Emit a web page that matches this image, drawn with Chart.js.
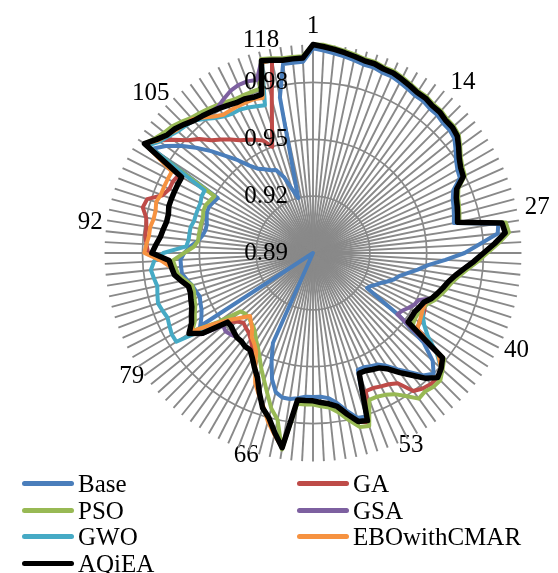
<!DOCTYPE html>
<html>
<head>
<meta charset="utf-8">
<script src="https://cdn.jsdelivr.net/npm/chart.js@4.4.1/dist/chart.umd.min.js"></script>
<style>
  html, body { margin: 0; padding: 0; background: #fff; overflow: hidden; }
  #wrap { position: relative; width: 558px; height: 573px; }
  #radar { position: absolute; left: 0; top: 0; }
  .item { position: absolute; height: 26px; line-height: 26px; font: 25px "Liberation Serif", serif; color: #000; white-space: nowrap; }
  .swatch { position: absolute; left: 0; top: 11px; width: 52px; height: 5px; border-radius: 3px; }
  .txt { position: absolute; left: 56px; top: 0; }
</style>
</head>
<body>
<div id="wrap">
  <canvas id="radar" width="558" height="573"></canvas>
  <div id="legend"></div>
</div>
<script>
// categories 1..120, only every 13th one is labelled
var categories = [];
for (var i = 1; i <= 120; i++) categories.push(String(i));
var shownLabels = ['1', '14', '27', '40', '53', '66', '79', '92', '105', '118'];
var tickValues = [0.888, 0.89, 0.92, 0.95, 0.98, 1.00];   // first one is a dummy (chart.js skips tick 0)
var tickLabels = [0.89, 0.92, 0.95, 0.98];

var seriesNames = ['Base', 'GA', 'PSO', 'GSA', 'GWO', 'EBOwithCMAR', 'AQiEA'];
var seriesColors = ['#4A7EBB', '#BE4B48', '#98B954', '#7D60A0', '#46AAC5', '#F69240', '#000000'];

var base = [
  0.998, 0.997, 0.996, 0.995, 0.994, 0.993, 0.993, 0.992, 0.992, 0.991,
  0.990, 0.989, 0.989, 0.988, 0.988, 0.987, 0.987, 0.986, 0.983, 0.980,
  0.978, 0.977, 0.971, 0.969, 0.968, 0.967, 0.966, 0.989, 0.988, 0.978,
  0.970, 0.960, 0.951, 0.946, 0.941, 0.937, 0.935, 0.932, 0.929, 0.927,
  0.925, 0.924, 0.946, 0.965, 0.975, 0.980, 0.977, 0.971, 0.966, 0.961,
  0.958, 0.957, 0.956, 0.956, 0.981, 0.980, 0.975, 0.970, 0.967, 0.966,
  0.966, 0.966, 0.967, 0.968, 0.968, 0.966, 0.960, 0.951, 0.942, 0.890,
  0.890, 0.890, 0.890, 0.890, 0.890, 0.890, 0.890, 0.890, 0.890, 0.961,
  0.958, 0.956, 0.955, 0.954, 0.955, 0.956, 0.958, 0.960, 0.960, 0.960,
  0.958, 0.955, 0.951, 0.949, 0.948, 0.948, 0.949, 0.950, 0.950, 0.949,
  0.948, 0.991, 0.986, 0.980, 0.973, 0.966, 0.959, 0.953, 0.947, 0.943,
  0.941, 0.939, 0.938, 0.933, 0.925, 0.920, 0.974, 0.991, 0.991, 0.991
];
var ga = [
  1.000, 0.999, 0.998, 0.997, 0.996, 0.995, 0.995, 0.994, 0.994, 0.993,
  0.992, 0.991, 0.991, 0.990, 0.990, 0.989, 0.989, 0.988, 0.985, 0.982,
  0.980, 0.979, 0.973, 0.971, 0.970, 0.969, 0.968, 0.991, 0.992, 0.986,
  0.980, 0.975, 0.970, 0.966, 0.963, 0.961, 0.959, 0.957, 0.955, 0.956,
  0.957, 0.957, 0.958, 0.978, 0.981, 0.983, 0.983, 0.982, 0.980, 0.972,
  0.970, 0.969, 0.968, 0.968, 0.984, 0.982, 0.977, 0.972, 0.970, 0.969,
  0.968, 0.968, 0.968, 0.994, 0.987, 0.980, 0.976, 0.969, 0.962, 0.958,
  0.954, 0.949, 0.946, 0.944, 0.943, 0.942, 0.944, 0.948, 0.956, 0.966,
  0.964, 0.962, 0.960, 0.959, 0.958, 0.958, 0.961, 0.964, 0.965, 0.966,
  0.977, 0.978, 0.979, 0.979, 0.980, 0.983, 0.982, 0.975, 0.973, 0.973,
  0.972, 0.995, 0.991, 0.985, 0.979, 0.975, 0.970, 0.967, 0.964, 0.961,
  0.959, 0.957, 0.955, 0.950, 0.960, 0.974, 0.994, 0.993, 0.993, 0.993
];
var pso = [
  1.000, 1.000, 0.999, 0.998, 0.997, 0.996, 0.996, 0.995, 0.995, 0.994,
  0.993, 0.992, 0.992, 0.991, 0.991, 0.990, 0.990, 0.989, 0.986, 0.983,
  0.981, 0.980, 0.974, 0.972, 0.971, 0.970, 0.969, 0.993, 0.994, 0.988,
  0.982, 0.977, 0.972, 0.968, 0.965, 0.963, 0.961, 0.959, 0.956, 0.955,
  0.954, 0.954, 0.955, 0.979, 0.982, 0.985, 0.985, 0.984, 0.985, 0.980,
  0.976, 0.974, 0.973, 0.973, 0.986, 0.985, 0.980, 0.975, 0.972, 0.971,
  0.970, 0.970, 0.970, 0.995, 0.980, 0.975, 0.968, 0.962, 0.957, 0.952,
  0.948, 0.945, 0.942, 0.940, 0.939, 0.938, 0.938, 0.939, 0.952, 0.966,
  0.962, 0.960, 0.958, 0.957, 0.956, 0.956, 0.959, 0.962, 0.963, 0.964,
  0.958, 0.953, 0.951, 0.951, 0.951, 0.951, 0.951, 0.952, 0.952, 0.951,
  0.950, 0.996, 0.993, 0.991, 0.990, 0.988, 0.986, 0.985, 0.984, 0.983,
  0.982, 0.981, 0.981, 0.981, 0.981, 0.996, 0.995, 0.994, 0.994, 0.994
];
var gsa = [
  1.000, 0.999, 0.998, 0.997, 0.996, 0.995, 0.995, 0.994, 0.994, 0.993,
  0.992, 0.991, 0.991, 0.990, 0.990, 0.989, 0.989, 0.988, 0.985, 0.982,
  0.980, 0.979, 0.973, 0.971, 0.970, 0.969, 0.968, 0.991, 0.992, 0.986,
  0.980, 0.975, 0.970, 0.966, 0.963, 0.961, 0.959, 0.957, 0.951, 0.950,
  0.948, 0.946, 0.945, 0.976, 0.981, 0.983, 0.979, 0.973, 0.968, 0.963,
  0.960, 0.959, 0.958, 0.958, 0.983, 0.982, 0.977, 0.972, 0.970, 0.969,
  0.968, 0.968, 0.968, 0.994, 0.987, 0.980, 0.976, 0.969, 0.962, 0.958,
  0.954, 0.951, 0.951, 0.950, 0.950, 0.951, 0.952, 0.951, 0.963, 0.968,
  0.964, 0.962, 0.960, 0.959, 0.958, 0.958, 0.961, 0.964, 0.965, 0.966,
  0.975, 0.973, 0.971, 0.970, 0.969, 0.969, 0.970, 0.970, 0.970, 0.970,
  0.970, 0.996, 0.992, 0.989, 0.988, 0.986, 0.984, 0.983, 0.982, 0.982,
  0.984, 0.986, 0.987, 0.987, 0.986, 0.995, 0.994, 0.993, 0.993, 0.993
];
var gwo = [
  1.000, 0.999, 0.998, 0.997, 0.996, 0.995, 0.995, 0.994, 0.994, 0.993,
  0.992, 0.991, 0.991, 0.990, 0.990, 0.989, 0.989, 0.988, 0.985, 0.982,
  0.980, 0.979, 0.973, 0.971, 0.970, 0.969, 0.968, 0.991, 0.992, 0.986,
  0.980, 0.975, 0.970, 0.966, 0.963, 0.961, 0.959, 0.957, 0.955, 0.955,
  0.957, 0.960, 0.965, 0.974, 0.981, 0.983, 0.979, 0.973, 0.968, 0.963,
  0.960, 0.959, 0.958, 0.958, 0.983, 0.982, 0.977, 0.972, 0.970, 0.969,
  0.968, 0.968, 0.968, 0.994, 0.987, 0.980, 0.976, 0.969, 0.962, 0.958,
  0.954, 0.951, 0.951, 0.950, 0.950, 0.949, 0.948, 0.948, 0.955, 0.976,
  0.976, 0.975, 0.974, 0.975, 0.976, 0.975, 0.974, 0.975, 0.976, 0.974,
  0.969, 0.957, 0.956, 0.956, 0.956, 0.955, 0.955, 0.955, 0.955, 0.956,
  0.956, 0.994, 0.990, 0.988, 0.986, 0.985, 0.984, 0.981, 0.978, 0.976,
  0.975, 0.975, 0.974, 0.973, 0.972, 0.994, 0.994, 0.993, 0.993, 0.993
];
var ebo = [
  1.000, 0.999, 0.998, 0.997, 0.996, 0.995, 0.995, 0.994, 0.994, 0.993,
  0.992, 0.991, 0.991, 0.990, 0.990, 0.989, 0.989, 0.988, 0.985, 0.982,
  0.980, 0.979, 0.973, 0.971, 0.970, 0.969, 0.968, 0.991, 0.992, 0.986,
  0.980, 0.975, 0.970, 0.966, 0.963, 0.961, 0.959, 0.957, 0.955, 0.955,
  0.956, 0.957, 0.958, 0.975, 0.981, 0.983, 0.979, 0.973, 0.968, 0.963,
  0.960, 0.959, 0.958, 0.958, 0.983, 0.982, 0.977, 0.972, 0.970, 0.969,
  0.968, 0.968, 0.968, 0.994, 0.988, 0.982, 0.975, 0.970, 0.965, 0.957,
  0.950, 0.947, 0.945, 0.941, 0.939, 0.937, 0.941, 0.946, 0.953, 0.966,
  0.964, 0.962, 0.960, 0.959, 0.958, 0.958, 0.961, 0.964, 0.965, 0.970,
  0.979, 0.978, 0.977, 0.977, 0.976, 0.976, 0.977, 0.976, 0.976, 0.976,
  0.976, 0.996, 0.991, 0.989, 0.987, 0.986, 0.985, 0.982, 0.979, 0.977,
  0.977, 0.977, 0.977, 0.977, 0.976, 0.994, 0.994, 0.993, 0.993, 0.993
];
var aqiea = [
  1.000, 0.999, 0.998, 0.997, 0.996, 0.995, 0.995, 0.994, 0.994, 0.993,
  0.992, 0.991, 0.991, 0.990, 0.990, 0.989, 0.989, 0.988, 0.985, 0.982,
  0.980, 0.979, 0.973, 0.971, 0.970, 0.969, 0.968, 0.991, 0.992, 0.986,
  0.980, 0.975, 0.970, 0.966, 0.963, 0.961, 0.959, 0.957, 0.954, 0.953,
  0.952, 0.952, 0.952, 0.978, 0.981, 0.983, 0.979, 0.973, 0.968, 0.963,
  0.960, 0.959, 0.958, 0.958, 0.983, 0.982, 0.977, 0.972, 0.970, 0.969,
  0.968, 0.968, 0.968, 0.994, 0.987, 0.980, 0.976, 0.969, 0.962, 0.958,
  0.954, 0.951, 0.951, 0.950, 0.950, 0.949, 0.948, 0.948, 0.962, 0.968,
  0.964, 0.962, 0.960, 0.959, 0.958, 0.958, 0.961, 0.964, 0.965, 0.966,
  0.975, 0.973, 0.971, 0.970, 0.969, 0.969, 0.970, 0.970, 0.970, 0.970,
  0.970, 0.996, 0.992, 0.989, 0.988, 0.986, 0.984, 0.983, 0.982, 0.981,
  0.980, 0.979, 0.979, 0.978, 0.978, 0.995, 0.994, 0.993, 0.993, 0.993
];
var seriesData = [base, ga, pso, gsa, gwo, ebo, aqiea];

// radial offset and line height of each category label (tuned to the picture)
var labelPad = { '1': 5.5, '14': -2.5, '27': -4.5, '40': -6.5, '53': -10.5,
                 '66': -11.5, '79': -12.5, '92': -10.5, '105': -27.7, '118': -5.8 };
var labelLine = { '92': 1.6, '105': 2.4 };
var tickPad = '\u00a0'.repeat(15);   // pushes the tick text left of the axis
var gridGray = '#898989';
var serif = 'Liberation Serif';

var datasets = seriesNames.map(function (name, i) {
  return {
    label: name,
    data: seriesData[i],
    borderColor: seriesColors[i],
    backgroundColor: seriesColors[i],
    borderWidth: i === 6 ? 5.5 : 4,
    pointRadius: 0,
    pointHoverRadius: 0,
    fill: false,
    tension: 0,
    borderJoinStyle: 'round',
    borderCapStyle: 'round',
    order: 6 - i
  };
});

var chart = new Chart(document.getElementById('radar'), {
  type: 'radar',
  data: { labels: categories, datasets: datasets },
  options: {
    responsive: false,
    animation: false,
    devicePixelRatio: 1,
    layout: { padding: { left: 77, right: 7, top: 0.5, bottom: 67.5 } },
    plugins: { legend: { display: false }, tooltip: { enabled: false } },
    scales: {
      r: {
        min: 0.89,
        max: 1.0,
        beginAtZero: false,
        afterBuildTicks: function (scale) {
          scale.ticks = tickValues.map(function (v) { return { value: v }; });
        },
        angleLines: { display: true, color: gridGray, lineWidth: 1.9 },
        grid: {
          circular: true,
          lineWidth: 1.7,
          color: function (ctx) {
            var v = ctx.tick ? ctx.tick.value : 0;
            return tickLabels.some(function (t) { return Math.abs(t - v) < 1e-6 && t > 0.9; }) ? gridGray : 'rgba(0,0,0,0)';
          }
        },
        ticks: {
          z: 1,
          color: '#000',
          showLabelBackdrop: false,
          backdropPadding: 0,
          font: { family: serif, size: 25 },
          callback: function (v) {
            var hit = tickLabels.some(function (t) { return Math.abs(t - v) < 1e-6; });
            return hit ? v.toFixed(2) + tickPad : '';
          }
        },
        pointLabels: {
          display: true,
          color: '#000',
          font: function (ctx) {
            return { family: serif, size: 25, lineHeight: labelLine[ctx.label] || 0.04 };
          },
          padding: function (ctx) {
            return labelPad.hasOwnProperty(ctx.label) ? labelPad[ctx.label] : -100;
          },
          callback: function (label) {
            return shownLabels.indexOf(label) >= 0 ? label : '';
          }
        }
      }
    }
  }
});

var legendBox = document.getElementById('legend');
seriesNames.forEach(function (name, i) {
  var item = document.createElement('div');
  item.className = 'item';
  item.style.left = (i % 2 ? 297 : 22) + 'px';
  item.style.top = (470 + Math.floor(i / 2) * 26.5) + 'px';
  item.innerHTML = '<span class="swatch" style="background:' + seriesColors[i] + '"></span>' +
                   '<span class="txt">' + name + '</span>';
  legendBox.appendChild(item);
});
</script>
</body>
</html>
